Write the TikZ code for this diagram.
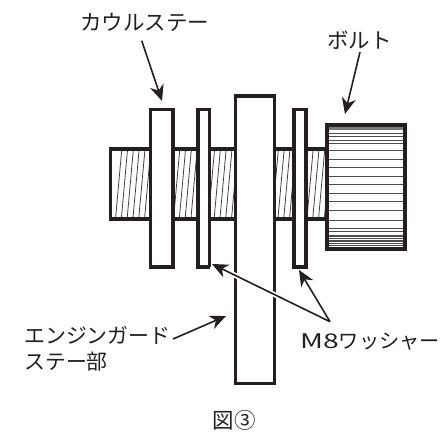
\documentclass[tikz,border=0pt]{standalone}
\usepackage{fontspec}
\usepackage{graphicx}
\setmainfont{Noto Sans CJK JP}
\usetikzlibrary{arrows.meta,calc}
\definecolor{ink}{HTML}{231F20}
\tikzset{
  x=1pt,y=-1pt,
  part/.style={draw=ink,line width=3.7pt,fill=white,line join=miter},
  hatchline/.style={draw=ink!85,line width=0.8pt},
  ruleline/.style={draw=ink!80,line width=0.9pt},
  lead/.style={draw=ink,line width=1.6pt,-{Stealth[length=16pt,width=14pt,inset=5pt]}},
  halo/.style={draw=white,line width=5pt},
  label/.style={inner sep=0pt,font=\fontsize{21.5}{26}\selectfont,text=ink,align=left},
  smalllabel/.style={label,font=\fontsize{20.2}{26}\selectfont},
  guardtext/.style={label,font=\fontsize{20.9}{26}\selectfont},
}
\begin{document}
\begin{tikzpicture}
\useasboundingbox (0,0) rectangle (441,432);
% threaded shaft
\fill[white] (110.5,149) rectangle (325,219);
\begin{scope}
  \clip (110.5,151) rectangle (325,217.5);
  \foreach \x in {115.5,121.3,...,330}
    \draw[hatchline] (\x+6.3,149) -- (\x,219);
\end{scope}
\draw[part,fill=none] (325,149) -- (110.5,149) -- (110.5,219) -- (325,219);
% plates
\node[part,minimum width=22.5pt,minimum height=157.5pt,inner sep=0pt,anchor=north west] (stay) at (148.5,107.7) {};
\node[part,minimum width=11.5pt,minimum height=157.5pt,inner sep=0pt,anchor=north west] (washerA) at (196,107.7) {};
\node[part,minimum width=39pt,minimum height=287.7pt,inner sep=0pt,anchor=north west] (guard) at (233.7,94) {};
\node[part,minimum width=12pt,minimum height=157.5pt,inner sep=0pt,anchor=north west] (washerB) at (292,107.7) {};
% bolt head
\node[draw=none,fill=white,minimum width=78.5pt,minimum height=124pt,inner sep=0pt,anchor=north west] (head) at (324.7,123) {};
\fill[ink!60] (325,124) rectangle (403,130);
\foreach \y in {133.3,136.7,140,143.3,150.7,159.3,167.7,176,184.7,193.3,201.7,210.3,220,228.3,231.7,235,236.7,238.3,240,241.7,243.3,245}
  \draw[ruleline] (head.west |- 0,\y) -- (head.east |- 0,\y);
\node[draw=ink,line width=4pt,minimum width=78.5pt,minimum height=124pt,inner sep=0pt,anchor=north west] (headframe) at (324.7,123) {};
% labels
\node[label,anchor=west] (cowl) at (80,22) {カウルステー};
\node[label,anchor=west] (boltlabel) at (327,40) {ボルト};
\node[guardtext,anchor=north west] (guardlabel) at (24,326) {エンジンガード\\ステー部};
\node[smalllabel,anchor=west] (m8) at (300,342) {\scalebox{1.4}[1]{M8}ワッシャー};
\node[label,anchor=center] (fig) at (234,420) {図③};
% leader coordinates
\coordinate (cowlstart) at (141.7,40.7);
\coordinate (cowltip) at (162,101);
\coordinate (boltstart) at (360,52);
\coordinate (bolttip) at (345,114);
\coordinate (m8start) at (330,321.7);
\coordinate (m8tipA) at (212,264);
\coordinate (m8tipB) at (299,270);
\coordinate (guardstart) at (173,339);
\coordinate (guardtip) at (226,316);
% leaders
\draw[halo] (m8start) -- (m8tipA);
\draw[white,line width=10pt] (m8tipA) -- ($(m8tipA)!12pt!(m8start)$);
\draw[lead] (cowlstart) -- (cowltip);
\draw[lead] (boltstart) -- (bolttip);
\draw[lead] (m8start) -- (m8tipA);
\draw[lead] (m8start) -- (m8tipB);
\draw[lead] (guardstart) -- (guardtip);
\end{tikzpicture}
\end{document}
